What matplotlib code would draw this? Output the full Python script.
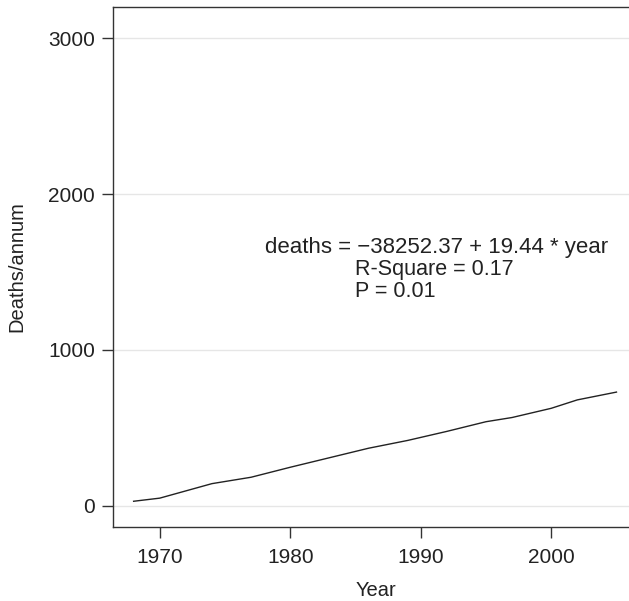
import matplotlib
matplotlib.use("Agg")
import matplotlib.pyplot as plt

plt.rcParams['font.family'] = ['Liberation Sans', 'DejaVu Sans']

# annual deaths (smoothed trend)
years = [1968, 1970, 1974, 1977, 1980, 1986, 1989, 1992, 1995, 1997, 2000, 2002, 2005]
deaths = [30, 50, 143, 184, 248, 370, 420, 478, 540, 567, 626, 680, 730]

y_ticks = [0, 1000, 2000, 3000]
x_ticks = [1970, 1980, 1990, 2000]

eq_text = "deaths = \u221238252.37 + 19.44 * year"
r2_text = "R-Square = 0.17"
p_text = "P = 0.01"

ink = '#222222'

fig = plt.figure(figsize=(6.29, 6.01), dpi=100)
ax = fig.add_axes([113 / 629, 74 / 601, 516 / 629, 520 / 601])

ax.plot(years, deaths, color=ink, lw=1.0)

ax.set_xlim(1966.42, 2005.96)
ax.set_ylim(-135, 3199)
ax.set_xticks(x_ticks)
ax.set_yticks(y_ticks)
ax.grid(axis='y', color='#e6e6e6', lw=1.0)
ax.set_axisbelow(True)

for side in ['left', 'bottom', 'top']:
    ax.spines[side].set_color('#333333')
    ax.spines[side].set_linewidth(1.0)
ax.spines['right'].set_visible(False)

ax.tick_params(axis='both', length=8, width=1.0, color='#333333',
               labelsize=15, labelcolor=ink)
ax.tick_params(axis='x', pad=7)
ax.tick_params(axis='y', pad=5)

ax.set_xlabel('Year', fontsize=14.5, color=ink)
ax.set_ylabel('Deaths/annum', fontsize=14.5, color=ink)
ax.xaxis.set_label_coords(0.51, -0.104)
ax.yaxis.set_label_coords(-0.168, 0.5)

ax.text(1978.07, 1622, eq_text, fontsize=16, color=ink, va='baseline')
ax.text(1984.97, 1481, r2_text, fontsize=15.5, color=ink, va='baseline')
ax.text(1984.97, 1340, p_text, fontsize=15.5, color=ink, va='baseline')

fig.savefig('out.png', dpi=100)
